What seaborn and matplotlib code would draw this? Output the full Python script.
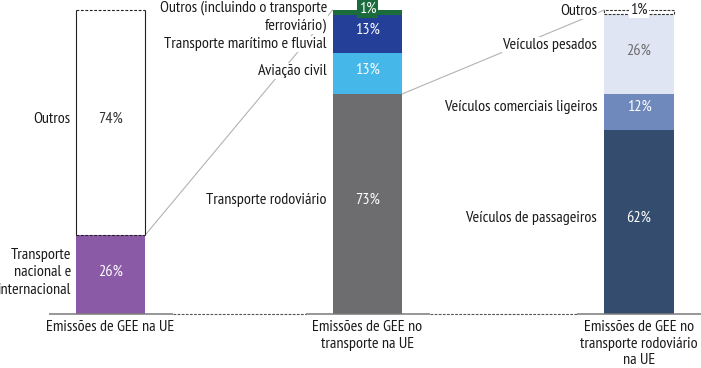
import matplotlib
matplotlib.use("Agg")
import matplotlib.pyplot as plt
import seaborn as sns

sns.set_theme(style="white")
plt.rcParams['font.family'] = ['PT Sans Narrow', 'DejaVu Sans']

# ---------------- data ----------------
bar_names = ["Emissões de GEE na UE",
             "Emissões de GEE no\ntransporte na UE",
             "Emissões de GEE no\ntransporte rodoviário\nna UE"]

seg1_labels = ["Transporte\nnacional e\ninternacional", "Outros"]
seg1_values = [26, 74]
seg1_pct = ["26%", "74%"]

seg2_labels = ["Transporte rodoviário", "Aviação civil",
               "Transporte marítimo e fluvial",
               "Outros (incluindo o transporte\nferroviário)"]
seg2_values = [72.4, 13.6, 12.4, 1.6]
seg2_pct = ["73%", "13%", "13%", "1%"]

seg3_labels = ["Veículos de passageiros", "Veículos comerciais ligeiros",
               "Veículos pesados", "Outros"]
seg3_values = [60.5, 11.8, 26.4, 1.3]
seg3_pct = ["62%", "12%", "26%", "1%"]

# ---------------- layout / style ----------------
W, H = 701, 368
BASE_PX, TOP_PX = 314, 10
S = (BASE_PX - TOP_PX) / 100.0
BAR_X = [110.5, 367.5, 639]
BAR_W = 69.5
FS = 11.6
LS = 1.33
LS_NAMES = 1.25

colors1 = ["#8a5aa6", "white"]
colors2 = ["#6d6d6f", "#45b7e8", "#233f98", "#1b6b3c"]
colors3 = ["#344d6e", "#7089bd", "#dfe5f2", "white"]
pct_colors1 = ["white", "#333333"]
pct_colors2 = ["white", "white", "white", "white"]
pct_colors3 = ["white", "white", "#6b6b6b", "#222222"]

label_y1 = [272.5, 119]
pct_y1 = [272, 119]
label_y2 = [200, 71, 44, 16.5]
pct_y2 = [200, 70, 30, 9]
label_y3 = [218, 107, 45, 11]
pct_y3 = [218, 107, 51, 10]
label_gap = [5, 6, 7]


def py(p):
    return (BASE_PX - p) / S


fig = plt.figure(figsize=(W / 100, H / 100), dpi=100)
ax = fig.add_axes([0, 0, 1, 1])

stacks = [
    (seg1_labels, seg1_values, seg1_pct, colors1, pct_colors1, label_y1, pct_y1),
    (seg2_labels, seg2_values, seg2_pct, colors2, pct_colors2, label_y2, pct_y2),
    (seg3_labels, seg3_values, seg3_pct, colors3, pct_colors3, label_y3, pct_y3),
]

white_box = dict(facecolor="white", edgecolor="none", pad=0.6)

for i, (labels, values, pcts, cols, pcols, ly, pyy) in enumerate(stacks):
    x = BAR_X[i]
    left = x - BAR_W / 2
    bottom = 0.0
    for j, (lab, v, pc, c, tc) in enumerate(zip(labels, values, pcts, cols, pcols)):
        dashed_box = (c == "white" and i == 2)
        sns.barplot(x=[x], y=[v], bottom=bottom, native_scale=True, width=BAR_W,
                    color=c, saturation=1, errorbar=None, orient="x", ax=ax,
                    linewidth=0.8 if dashed_box else 0,
                    edgecolor="#333333" if dashed_box else c,
                    linestyle=(0, (2.5, 1.2)) if dashed_box else "-", zorder=2)
        if c == "white" and i == 0:
            ax.vlines([left, left + BAR_W], bottom, bottom + v, color="#222222",
                      lw=0.8, zorder=3)
            ax.hlines([bottom, bottom + v], left, left + BAR_W, color="#222222",
                      lw=0.8, linestyles=[(0, (2.5, 1.5))], zorder=3)
        # category label
        ax.text(left - label_gap[i], py(ly[j]), lab, ha="right", va="center",
                fontsize=FS, color="#1a1a1a", linespacing=LS,
                bbox=white_box if i > 0 else None, zorder=4)
        # percentage label
        if i == 1 and j == 3:
            box = dict(facecolor=c, edgecolor="none", pad=1.2)
        elif i == 2 and j == 3:
            box = white_box
        else:
            box = None
        ax.text(x, py(pyy[j]), pc, ha="center", va="center", fontsize=FS,
                color=tc, bbox=box, zorder=5)
        bottom += v

# connector lines
ax.plot([BAR_X[0] + BAR_W / 2, BAR_X[1] - BAR_W / 2],
        [seg1_values[0], sum(seg2_values)], color="#b3b3b3", lw=0.8, zorder=1.5)
ax.plot([BAR_X[1] + BAR_W / 2, BAR_X[2] - BAR_W / 2],
        [seg2_values[0], sum(seg3_values)], color="#b3b3b3", lw=0.8, zorder=1.5)

# baseline: solid under bars, dashed between
half = 62
for i, x in enumerate(BAR_X):
    x0 = x - half
    x1 = W if i == len(BAR_X) - 1 else x + half
    ax.plot([x0, x1], [0, 0], color="#7a7a7a", lw=1.1, zorder=3,
            solid_capstyle="butt")
    if i < len(BAR_X) - 1:
        ax.plot([x + half, BAR_X[i + 1] - half], [0, 0], color="#555555",
                lw=0.8, ls=(0, (2.5, 1.2)), zorder=3)

# category names below
for x, name in zip(BAR_X, bar_names):
    ax.text(x, py(320), name, ha="center", va="top", fontsize=FS,
            color="#1a1a1a", linespacing=LS_NAMES)

ax.set_xlim(0, W)
ax.set_ylim(py(H), py(0))
ax.axis("off")
fig.savefig("out.png", dpi=100)
